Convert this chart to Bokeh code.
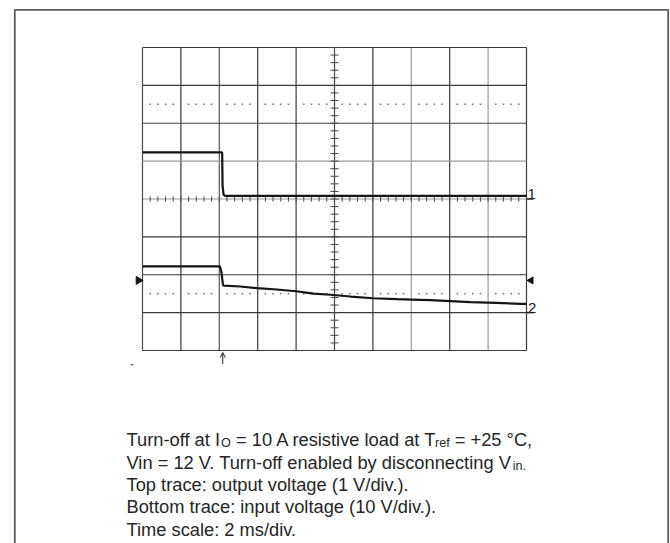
import numpy as np
from bokeh.plotting import figure
from bokeh.models import Range1d, Arrow, OpenHead
from bokeh.core.properties import value
from bokeh.embed import file_html
from bokeh.resources import INLINE

# ---------------- data ----------------
TIME_MS_PER_DIV = 2
N_XDIV = 10
N_YDIV = 8
CH1_V_PER_DIV = 1      # top trace: output voltage
CH2_V_PER_DIV = 10     # bottom trace: input voltage
CH1_REF_DIV = 0        # ground marker "1"
CH2_REF_DIV = -3       # ground marker "2"

ch1_t_ms = [0.0, 4.15, 4.17, 4.22, 4.30, 8.0, 12.0, 16.0, 20.0]
ch1_v = [1.23, 1.23, 0.35, 0.12, 0.08, 0.08, 0.08, 0.08, 0.08]

ch2_t_ms = [0.0, 4.03, 4.11, 4.19, 4.23, 5.1, 5.97, 7.0, 8.0, 8.92, 9.79,
            10.83, 12.0, 13.26, 14.0, 15.0, 16.04, 17.08, 18.0, 18.8, 19.7, 20.0]
ch2_v = [12.2, 12.2, 10.8, 7.3, 7.15, 6.9, 6.45, 6.1, 5.65, 5.0, 4.72,
         4.25, 3.8, 3.55, 3.45, 3.3, 3.02, 2.75, 2.65, 2.5, 2.32, 2.3]

TRIGGER_T_MS = 4.18
TRIGGER_LEVEL_V = 8.5  # on ch2 scale

channel_labels = ["1", "2"]

# (text, is_subscript)
caption = [
    [("Turn-off at I", False), ("O", True), (" = 10 A resistive load at T", False),
     ("ref", True), (" = +25 °C,", False)],
    [("Vin = 12 V. Turn-off enabled by disconnecting V", False), ("in.", True)],
    [("Top trace: output voltage (1 V/div.).", False)],
    [("Bottom trace: input voltage (10 V/div.).", False)],
    [("Time scale: 2 ms/div.", False)],
]

# ---------------- layout ----------------
PAGE_OFF = 0
W, H = 670, 543
GRID_L, GRID_R, GRID_T, GRID_B = 142, 526, 47, 350

px_per_ms = (GRID_R - GRID_L) / (N_XDIV * TIME_MS_PER_DIV)
px_per_div = (GRID_B - GRID_T) / N_YDIV
x0 = -(GRID_L - PAGE_OFF) / px_per_ms
x1 = x0 + W / px_per_ms
center_py = (GRID_T + GRID_B) / 2
y1 = (center_py - PAGE_OFF) / px_per_div
y0 = y1 - H / px_per_div


def X(px):
    return x0 + (px - PAGE_OFF) / px_per_ms


def Y(py):
    return y1 - (py - PAGE_OFF) / px_per_div


p = figure(width=W, height=H, x_range=Range1d(x0, x1), y_range=Range1d(y0, y1),
           output_backend="svg", toolbar_location=None, min_border=0,
           x_axis_location=None, y_axis_location=None)
p.grid.visible = False
p.outline_line_color = None
p.background_fill_color = "white"
p.border_fill_color = "white"

p.extra_y_ranges = {
    "ch1": Range1d((y0 - CH1_REF_DIV) * CH1_V_PER_DIV, (y1 - CH1_REF_DIV) * CH1_V_PER_DIV),
    "ch2": Range1d((y0 - CH2_REF_DIV) * CH2_V_PER_DIV, (y1 - CH2_REF_DIV) * CH2_V_PER_DIV),
}

# outer frame (open at the bottom)
p.line([X(14.3), X(14.3), X(667.7), X(667.7)], [Y(700), Y(9.3), Y(9.3), Y(700)],
       line_color="#5c5c5c", line_width=1.8)

# grid
t_end = N_XDIV * TIME_MS_PER_DIV
vcols = ["#4a4a4a", "#3a3a3a", "#555555", "#3a3a3a", "#3a3a3a", "#444444",
         "#3a3a3a", "#9a9a9a", "#3a3a3a", "#9a9a9a", "#3a3a3a"]
hcols = ["#3a3a3a", "#3a3a3a", "#444444", "#9a9a9a", "#9a9a9a",
         "#3a3a3a", "#3a3a3a", "#3a3a3a", "#3a3a3a"]
for i in range(N_XDIV + 1):
    p.segment(x0=[i * TIME_MS_PER_DIV], x1=[i * TIME_MS_PER_DIV],
              y0=[-N_YDIV / 2], y1=[N_YDIV / 2], line_color=vcols[i], line_width=1.2)
for j in range(N_YDIV + 1):
    yy = N_YDIV / 2 - j
    p.segment(x0=[0], x1=[t_end], y0=[yy], y1=[yy], line_color=hcols[j], line_width=1.2)

# dotted lines at +/-2.5 div
dx = np.arange(0, t_end + 1e-9, TIME_MS_PER_DIV / 5)
dx = dx[np.abs(dx / TIME_MS_PER_DIV - np.round(dx / TIME_MS_PER_DIV)) > 1e-6]
for yy in (2.5, -2.5):
    p.scatter(x=dx, y=[yy] * len(dx), marker="square", size=1.6,
              color="#7a7a7a", line_color=None)

# minor ticks on centre lines
ty = np.arange(-N_YDIV / 2, N_YDIV / 2 + 1e-9, 0.2)
hl = 4 / px_per_ms
p.segment(x0=t_end / 2 - hl, x1=t_end / 2 + hl, y0=ty, y1=ty, line_color="#444444", line_width=1)
tx = np.arange(0, t_end + 1e-9, TIME_MS_PER_DIV / 5)
vl = 2.6 / px_per_div
p.segment(x0=tx, x1=tx, y0=-vl, y1=vl, line_color="#444444", line_width=1)

# traces
p.line(ch1_t_ms, ch1_v, y_range_name="ch1", line_color="#141414", line_width=2.2)
p.line(ch2_t_ms, ch2_v, y_range_name="ch2", line_color="#141414", line_width=2.2)

# ground markers
mk_len = 7 / px_per_ms
p.segment(x0=[t_end], x1=[t_end + mk_len], y0=[0], y1=[0], y_range_name="ch1",
          line_color="#222222", line_width=1.5)
p.segment(x0=[t_end], x1=[t_end + mk_len], y0=[0], y1=[0], y_range_name="ch2",
          line_color="#222222", line_width=1.5)
p.text(x=[t_end], y=[0], text=[channel_labels[0]], y_range_name="ch1",
       x_offset=1, y_offset=-5, text_font=value("Liberation Sans"), text_font_size="15px",
       text_baseline="alphabetic", text_color="#222222")
p.text(x=[t_end], y=[0], text=[channel_labels[1]], y_range_name="ch2",
       x_offset=1.5, y_offset=-5, text_font=value("Liberation Sans"), text_font_size="15px",
       text_baseline="alphabetic", text_color="#222222")

# trigger level markers
p.scatter(x=[X(138)], y=[TRIGGER_LEVEL_V], y_range_name="ch2", marker="triangle",
          angle=-np.pi / 2, size=8, color="#151515")
p.scatter(x=[X(530.5)], y=[TRIGGER_LEVEL_V], y_range_name="ch2", marker="triangle",
          angle=np.pi / 2, size=7, color="#151515")

# trigger time arrow
p.add_layout(Arrow(end=OpenHead(size=5, line_width=1, line_color="#222222"),
                   x_start=TRIGGER_T_MS, y_start=Y(363.5), x_end=TRIGGER_T_MS, y_end=Y(352),
                   line_width=1, line_color="#222222"))
p.segment(x0=[X(130)], x1=[X(133)], y0=[Y(364.3)], y1=[Y(364.3)], line_color="#333333", line_width=1)

# caption with subscripts (Helvetica/Arial advance widths)
HW = {' ': 278, '!': 278, '"': 355, '#': 556, '$': 556, '%': 889, '&': 667, "'": 191,
      '(': 333, ')': 333, '*': 389, '+': 584, ',': 278, '-': 333, '.': 278, '/': 278,
      ':': 278, ';': 278, '<': 584, '=': 584, '>': 584, '?': 556, '@': 1015,
      'A': 667, 'B': 667, 'C': 722, 'D': 722, 'E': 667, 'F': 611, 'G': 778, 'H': 722,
      'I': 278, 'J': 500, 'K': 667, 'L': 556, 'M': 833, 'N': 722, 'O': 778, 'P': 667,
      'Q': 778, 'R': 722, 'S': 667, 'T': 611, 'U': 722, 'V': 667, 'W': 944, 'X': 667,
      'Y': 667, 'Z': 611, 'a': 556, 'b': 556, 'c': 500, 'd': 556, 'e': 556, 'f': 278,
      'g': 556, 'h': 556, 'i': 222, 'j': 222, 'k': 500, 'l': 222, 'm': 833, 'n': 556,
      'o': 556, 'p': 556, 'q': 556, 'r': 333, 's': 500, 't': 278, 'u': 556, 'v': 500,
      'w': 722, 'x': 500, 'y': 500, 'z': 500, '°': 400}
for d in "0123456789":
    HW[d] = 556
# kerning of a subscript tucked under a preceding capital (in em of the main size)
KERN_BEFORE_SUB = {'T': -0.16, 'V': -0.10, 'I': 0.0}


def tw(s, fs):
    return sum(HW.get(c, 556) for c in s) * fs / 1000.0


FS = 18.3
SFS = 12.6
SUB_DROP = 3.5
TEXT_X = 126
baselines = [439.3, 461.7, 484.0, 506.4, 528.8]
for line, by in zip(caption, baselines):
    cx = TEXT_X
    prev = ""
    for seg, sub in line:
        fs = SFS if sub else FS
        if sub and prev:
            cx += KERN_BEFORE_SUB.get(prev[-1], 0.0) * FS
        yy = by + (SUB_DROP if sub else 0)
        lead = len(seg) - len(seg.lstrip(" "))
        shown = seg.strip(" ")
        p.text(x=[X(cx + tw(" " * lead, fs))], y=[Y(yy)], text=[shown],
               text_font=value("Liberation Sans"),
               text_font_size=f"{fs}px", text_baseline="alphabetic", text_align="left",
               text_color="#262626")
        cx += tw(seg, fs)
        prev = seg

open("out.html", "w").write(file_html(p, INLINE))
